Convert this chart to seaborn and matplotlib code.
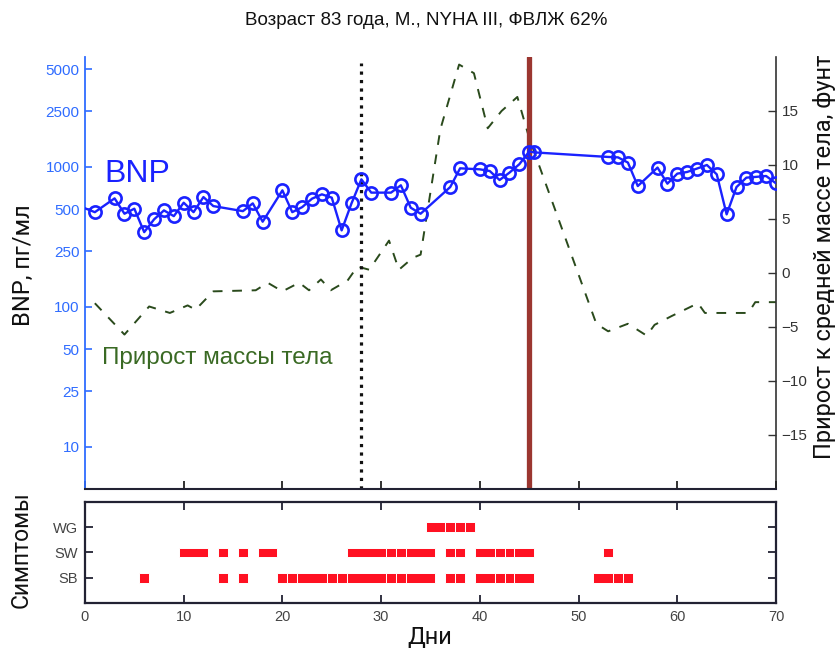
import matplotlib
matplotlib.use("Agg")
import matplotlib.pyplot as plt
import seaborn as sns
from matplotlib.ticker import NullLocator

# данные BNP (пг/мл) по дням
bnp_days = [-1, 1, 3, 4, 5, 6, 7, 8, 9, 10, 11, 12, 13, 16, 17, 18, 20, 21, 22, 23,
            24, 25, 26, 27, 28, 29, 31, 32, 33, 34, 37, 38, 40, 41, 42, 43, 44, 45,
            45.5, 53, 54, 55, 56, 58, 59, 60, 61, 62, 63, 64, 65, 66, 67, 68, 69, 70]
bnp_vals = [540, 475, 596, 463, 503, 342, 422, 489, 445, 555, 475, 609, 525, 483, 549,
            406, 680, 475, 516, 593, 637, 603, 352, 549, 815, 655, 655, 739, 511, 463,
            718, 977, 961, 935, 806, 910, 1045, 1288, 1270, 1178, 1170, 1074, 730, 989,
            759, 895, 920, 973, 1032, 885, 458, 718, 838, 849, 861, 763]

# прирост массы тела (фунт)
w_days = [1, 4, 6.5, 8.6, 10.4, 11.2, 13, 17.3, 18.5, 20, 21.7, 22.7, 23.9, 24.9, 26.6,
          27.6, 28.8, 30.8, 31.8, 33.2, 34, 36, 37.9, 39.4, 40.8, 42.2, 43.8, 45, 51.8,
          53, 55, 56.9, 57.7, 59.4, 62.1, 62.8, 67.2, 67.9, 70]
w_vals = [-2.8, -5.7, -3.1, -3.7, -3.0, -3.4, -1.7, -1.6, -0.9, -1.7, -0.9, -1.6, -0.6,
          -1.6, -0.7, 0.6, 0.3, 3.0, 0.3, 1.4, 1.7, 13.3, 19.3, 18.5, 13.4, 15.0, 16.3,
          12.5, -4.7, -5.4, -4.7, -5.8, -4.8, -4.0, -2.8, -3.7, -3.7, -2.7, -2.7]

# симптомы: отрезки (первый день, последний день)
sb_runs = [(6, 6), (14, 14), (16, 16), (20, 20), (21, 21), (22, 24), (25, 25), (26, 26),
           (27, 30), (31, 31), (32, 32), (33, 35), (37, 37), (38, 38), (40, 41), (42, 42),
           (43, 43), (44, 45), (52, 53), (54, 54), (55, 55)]
sw_runs = [(10, 12), (14, 14), (16, 16), (18, 19), (27, 30), (31, 31), (32, 32), (33, 35),
           (37, 37), (38, 38), (40, 41), (42, 42), (43, 43), (44, 45), (53, 53)]
wg_runs = [(35, 36), (37, 37), (38, 38), (39, 39)]
symptom_labels = ["SB", "SW", "WG"]

bnp_ticks = [10, 25, 50, 100, 250, 500, 1000, 2500, 5000]
w_ticks = [-15, -10, -5, 0, 5, 10, 15]
event_day = 28
admit_day = 45

sns.set_theme(style="white")
plt.rcParams["font.family"] = ["Liberation Sans", "DejaVu Sans"]

BLUE = "#1a22ff"
AXBLUE = "#2f6cff"
GREEN = "#2a4a1c"

fig = plt.figure(figsize=(8.38, 6.52), dpi=100)
ax = fig.add_axes([0.1014, 0.25, 0.8246, 0.6626])
ax2 = ax.twinx()
axb = fig.add_axes([0.1014, 0.0752, 0.8246, 0.1549])

# ---- верхняя панель ----
ax.set_zorder(ax2.get_zorder() + 1)
ax.patch.set_visible(False)

sns.lineplot(x=w_days, y=w_vals, ax=ax2, color=GREEN, linewidth=1.4,
             linestyle=(0, (5, 5)), estimator=None)
ax2.set_ylim(-20, 20)
ax2.set_yticks(w_ticks)
ax2.set_yticklabels([str(t).replace("-", "\u2212") for t in w_ticks])
ax2.tick_params(axis="y", direction="in", length=6, width=1, colors="#333333",
                labelsize=11, pad=4, right=True, labelright=True, left=False)
ax2.grid(False)

ax.axvline(admit_day, color="#9b3630", linewidth=3.8, zorder=1)
ax.axvline(event_day, ymax=0.985, color="#111111", linestyle=":", linewidth=2.3, zorder=1)

sns.lineplot(x=bnp_days, y=bnp_vals, ax=ax, color=BLUE, linewidth=1.7,
             marker="o", markersize=8.8, markerfacecolor="none",
             markeredgecolor=BLUE, markeredgewidth=1.9, estimator=None, zorder=3)
ax.set_yscale("log")
ax.set_ylim(5, 6100)
ax.set_yticks(bnp_ticks)
ax.set_yticklabels([str(t) for t in bnp_ticks])
ax.yaxis.set_minor_locator(NullLocator())
ax.set_xlim(0, 70)
ax.set_xticks(range(0, 71, 10))
ax.tick_params(axis="y", direction="in", length=5, width=1.2, colors=AXBLUE,
               labelsize=11, pad=4)
ax.tick_params(axis="x", direction="in", length=6, width=1.3, colors="#222222",
               labelbottom=False, bottom=True)
ax.set_xlabel("")
ax.set_ylabel("")
ax.grid(False)

for a in (ax, ax2):
    a.spines["top"].set_visible(False)
ax.spines["right"].set_visible(False)
ax2.spines["left"].set_visible(False)
ax2.spines["bottom"].set_visible(False)
ax.spines["left"].set_color(AXBLUE)
ax.spines["left"].set_linewidth(1.3)
ax.spines["bottom"].set_color("#222233")
ax.spines["bottom"].set_linewidth(1.5)
ax2.spines["right"].set_color("#333333")
ax2.spines["right"].set_linewidth(1.2)

ax.text(0.0275, 0.711, "BNP", transform=ax.transAxes, color=BLUE, fontsize=23,
        va="baseline", ha="left")
ax.text(0.024, 0.29, "Прирост массы тела", transform=ax.transAxes, color="#3a6a24",
        fontsize=17.5, va="baseline", ha="left")

# ---- нижняя панель: симптомы ----
for row, runs in enumerate([sb_runs, sw_runs, wg_runs], start=1):
    axb.barh([row] * len(runs), [e - s + 1 for s, e in runs],
             left=[s - 0.5 for s, e in runs], height=0.38,
             color="#ff1122", edgecolor="white", linewidth=0.7)
axb.set_xlim(0, 70)
axb.set_ylim(0, 4)
axb.set_xticks(range(0, 71, 10))
axb.set_yticks([1, 2, 3])
axb.set_yticklabels(symptom_labels)
axb.tick_params(direction="in", length=6, width=1.3, top=True, right=True, bottom=True,
                left=True, colors="#222233", labelsize=10.5, labelcolor="#444444", pad=5)
for s in axb.spines.values():
    s.set_color("#222233")
    s.set_linewidth(1.6)
axb.grid(False)

# ---- подписи ----
fig.text(0.508, 0.969, "Возраст 83 года, М., NYHA III, ФВЛЖ 62%", ha="center",
         va="center", fontsize=13.5, color="#111111")
fig.text(0.028, 0.594, "BNP, пг/мл", rotation=90, ha="center", va="center",
         fontsize=17, family=["Roboto", "DejaVu Sans"], color="#111111")
fig.text(0.984, 0.606, "Прирост к средней массе тела, фунт", rotation=90, ha="center",
         va="center", fontsize=17, family=["Roboto", "DejaVu Sans"], color="#111111")
fig.text(0.025, 0.157, "Симптомы", rotation=90, ha="center", va="center",
         fontsize=16.5, family=["Roboto", "DejaVu Sans"], color="#111111")
fig.text(0.513, 0.023, "Дни", ha="center", va="center", fontsize=17,
         family=["Roboto", "DejaVu Sans"], color="#111111")

fig.savefig("out.png", dpi=100)
